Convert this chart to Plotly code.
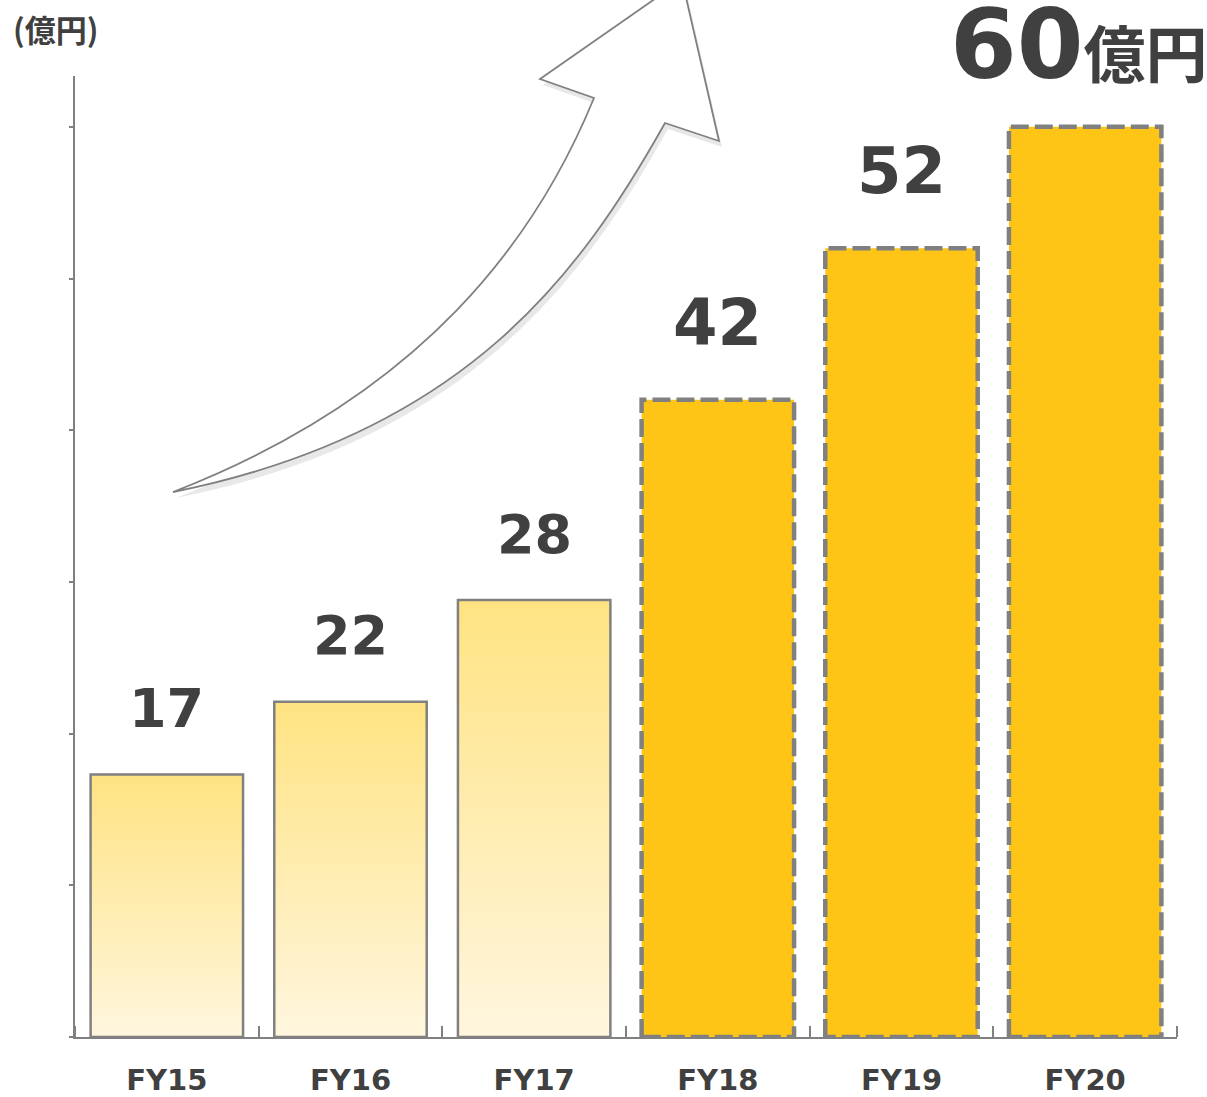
import plotly.graph_objects as go

# ---- data ----
categories = ["FY15", "FY16", "FY17", "FY18", "FY19", "FY20"]
values = [17.3, 22.1, 28.8, 42.0, 52.0, 60.0]
value_labels = ["17", "22", "28", "42", "52", ""]
is_plan = [False, False, False, True, True, True]
unit_label = "(億円)"
headline_number = "60"
headline_unit = "億円"

# ---- geometry / style ----
W, H = 1207, 1097
# plot area in page pixels: x 75..1177, y 76..1037
ML, MT = 75, 76
MR = W - 1177
MB = H - 1037
YMAX = 63.35
BAR_W = 0.83
GRAY = "#808080"
TEXT = "#404040"
PLAN_FILL = "#FEC516"

fig = go.Figure()

for i, (cat, v, plan) in enumerate(zip(categories, values, is_plan)):
    x0, x1 = i - BAR_W / 2, i + BAR_W / 2
    xs = [x0, x0, x1, x1, x0]
    ys = [0, v, v, 0, 0]
    if plan:
        fig.add_trace(go.Scatter(
            x=xs, y=ys, mode="lines", fill="toself", fillcolor=PLAN_FILL,
            line=dict(color=GRAY, width=4.5, dash="18px,6px"),
            hoverinfo="skip", showlegend=False))
    else:
        fig.add_trace(go.Scatter(
            x=xs, y=ys, mode="lines", fill="toself",
            fillgradient=dict(type="vertical",
                              colorscale=[[0, "#FFF6DE"], [1, "#FFE382"]]),
            line=dict(color=GRAY, width=2.5),
            hoverinfo="skip", showlegend=False))

# value labels
for i, (v, lab, plan) in enumerate(zip(values, value_labels, is_plan)):
    if not lab:
        continue
    fig.add_annotation(
        x=i, y=v, text=lab, showarrow=False, xanchor="center", yanchor="middle",
        yshift=77 if plan else 66,
        font=dict(family="DejaVu Sans", size=64 if plan else 54, color=TEXT,
                  weight="bold"))


def px2paper(px, py):
    return (px - ML) / (W - ML - MR), (H - MB - py) / (H - MT - MB)


# unit label top-left
ux, uy = px2paper(55, 28)
fig.add_annotation(
    x=ux, y=uy, xref="paper", yref="paper", text=unit_label, showarrow=False,
    xanchor="center", yanchor="middle",
    font=dict(family="Noto Sans CJK JP", size=31, color=TEXT, weight="bold"))

# headline top-right
hx, hy = px2paper(1079, 45)
fig.add_annotation(
    x=hx, y=hy, xref="paper", yref="paper", showarrow=False,
    xanchor="center", yanchor="middle",
    text=(f"<span style='font-family:DejaVu Sans;font-size:96px'><b>{headline_number}</b></span>"
          f"<span style='font-family:Noto Sans CJK JP;font-size:62px'><b>{headline_unit}</b></span>"),
    font=dict(color=TEXT))


def arrow_path(dx=0, dy=0):
    pts = {
        "T": (173, 492), "NL": (594, 98), "BL": (540, 79), "P": (682, -20),
        "BR": (719, 141), "NR": (665, 123),
        "U1": (425, 394), "U2": (537, 237),
        "L1": (582, 271), "L2": (467, 433),
    }

    def f(k):
        x, y = pts[k]
        a, b = px2paper(x + dx, y + dy)
        return f"{a:.5f},{b:.5f}"

    return (f"M {f('T')} C {f('U1')} {f('U2')} {f('NL')} L {f('BL')} L {f('P')} "
            f"L {f('BR')} L {f('NR')} C {f('L1')} {f('L2')} {f('T')} Z")


fig.add_shape(type="path", path=arrow_path(3, 6), xref="paper", yref="paper",
              fillcolor="rgba(0,0,0,0.09)", line=dict(width=0), layer="above")
fig.add_shape(type="path", path=arrow_path(), xref="paper", yref="paper",
              fillcolor="white", line=dict(color=GRAY, width=1.8), layer="above")

fig.update_layout(
    width=W, height=H, margin=dict(l=ML, r=MR, t=MT, b=MB),
    paper_bgcolor="white", plot_bgcolor="white", showlegend=False,
    xaxis=dict(range=[-0.5, len(categories) - 0.5], tickmode="array",
               tickvals=list(range(len(categories))), ticktext=categories,
               ticks="", showgrid=False, zeroline=False, showline=True,
               linecolor=GRAY, linewidth=2, ticklabelstandoff=16, automargin=False,
               tickfont=dict(family="DejaVu Sans", size=29, color=TEXT, weight="bold"),
               minor=dict(tickmode="array",
                          tickvals=[i - 0.5 for i in range(len(categories) + 1)],
                          ticks="inside", ticklen=11, tickcolor=GRAY, tickwidth=1.5),
               fixedrange=True),
    yaxis=dict(range=[0, YMAX], tickmode="array", tickvals=[0, 10, 20, 30, 40, 50, 60],
               showticklabels=False, ticks="outside", ticklen=4, tickcolor=GRAY,
               tickwidth=1.5, showgrid=False, zeroline=False, showline=True,
               linecolor=GRAY, linewidth=2, automargin=False, fixedrange=True),
)

fig.write_html(
    "out.html",
    config={"displayModeBar": False},
    post_script="document.body.style.margin='0';document.body.style.overflow='hidden';",
)
